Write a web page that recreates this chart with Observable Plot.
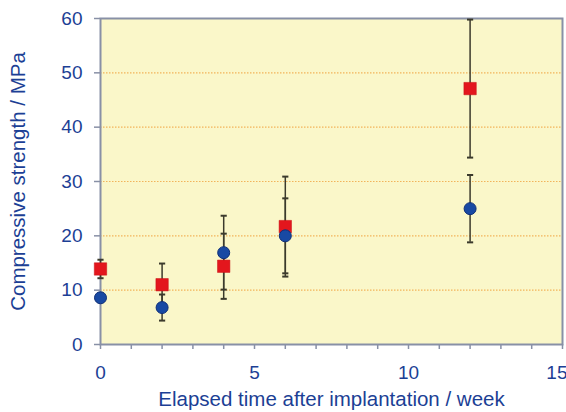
<!DOCTYPE html>
<html>
<head>
<meta charset="utf-8">
<script src="https://cdn.jsdelivr.net/npm/d3@7"></script>
<script src="https://cdn.jsdelivr.net/npm/@observablehq/plot@0.6"></script>
<style>
  html, body { margin: 0; padding: 0; background: #ffffff; }
  #chart svg { display: block; }
  #chart g[aria-label="x-axis label"] text, #chart g[aria-label="y-axis label"] text { font-size: 20.5px; }
</style>
</head>
<body>
<div id="chart"></div>
<script>
const weeks = [0, 2, 4, 6, 12];
const blueMean = [8.6, 6.8, 16.9, 20.0, 25.0];
const blueErr = [0.8, 2.4, 6.8, 6.9, 6.2];
const redMean = [13.9, 11.0, 14.4, 21.7, 47.1];
const redErr = [1.7, 3.9, 6.0, 9.2, 12.7];
const xTicks = d3.range(0, 16);
const xLabels = [0, 5, 10];
const xLastLabel = [15];
const yTicks = [0, 10, 20, 30, 40, 50, 60];
const gridValues = [10, 20, 30, 40, 50];

const blue = weeks.map((w, i) => ({x: w, y: blueMean[i], e: blueErr[i]}));
const red = weeks.map((w, i) => ({x: w, y: redMean[i], e: redErr[i]}));
const bars = [...blue, ...red];

const textColor = "#1c3f95";
const axisColor = "#8890a6";
const barColor = "#3b3a2c";
const capHalf = 0.1;

const chart = Plot.plot({
  width: 566,
  height: 412,
  marginLeft: 100,
  marginTop: 18,
  marginRight: 4,
  marginBottom: 68,
  style: {fontFamily: "'Liberation Sans', Arial, sans-serif", fontSize: "19px", color: textColor, background: "#ffffff"},
  x: {domain: [0, 15]},
  y: {domain: [0, 60]},
  marks: [
    Plot.frame({fill: "#faf7c9", stroke: null}),
    Plot.ruleY(gridValues, {stroke: "#f2b45a", strokeWidth: 1.2, strokeDasharray: "1.5,1.5"}),
    Plot.frame({stroke: axisColor, strokeWidth: 2}),
    Plot.axisX({ticks: xTicks, tickFormat: d => xLabels.includes(d) ? String(d) : "", tickSize: 5, tickPadding: 16, stroke: axisColor, strokeWidth: 1.5, fill: textColor, fontSize: 19,
      label: "Elapsed time after implantation / week", labelAnchor: "center", labelArrow: "none", labelOffset: 61}),
    Plot.text(xLastLabel, {x: d => d, y: 0, text: d => String(d), textAnchor: "end", dx: 5, dy: 21, lineAnchor: "top", fill: textColor, fontSize: 19}),
    Plot.axisY({ticks: yTicks, tickSize: 6, tickPadding: 12, stroke: axisColor, strokeWidth: 1.5, fill: textColor, fontSize: 19,
      label: "Compressive strength / MPa", labelAnchor: "center", labelArrow: "none", labelOffset: 90}),
    Plot.ruleX(bars, {x: "x", y1: d => d.y - d.e, y2: d => d.y + d.e, stroke: barColor, strokeWidth: 1.5}),
    Plot.link(bars, {x1: d => d.x - capHalf, x2: d => d.x + capHalf, y1: d => d.y + d.e, y2: d => d.y + d.e, stroke: barColor, strokeWidth: 2}),
    Plot.link(bars, {x1: d => d.x - capHalf, x2: d => d.x + capHalf, y1: d => d.y - d.e, y2: d => d.y - d.e, stroke: barColor, strokeWidth: 2}),
    Plot.dot(red, {x: "x", y: "y", symbol: "square", r: 7, fill: "#e3161d", stroke: "#c81015", strokeWidth: 0.5}),
    Plot.dot(blue, {x: "x", y: "y", symbol: "circle", r: 6, fill: "#1849a3", stroke: "#0f2f78", strokeWidth: 1})
  ]
});
document.getElementById("chart").append(chart);
</script>
</body>
</html>
